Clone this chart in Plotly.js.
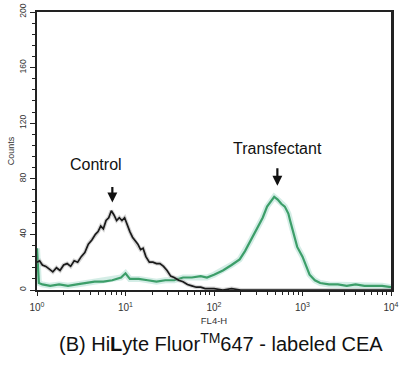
<!DOCTYPE html>
<html>
<head>
<meta charset="utf-8">
<script src="https://cdn.plot.ly/plotly-3.0.1.min.js"></script>
<style>html,body{margin:0;padding:0;background:#fff;}#chart{width:400px;height:370px;}</style>
</head>
<body>
<div id="chart"></div>
<script>
// FL4-H intensity (log axis) and event counts
var controlX = [1, 1.07, 1.15, 1.26, 1.38, 1.51, 1.66, 1.82, 2.0, 2.19, 2.4, 2.63, 2.88, 3.16, 3.47, 3.8, 4.17, 4.57, 4.9, 5.25, 5.62, 6.03, 6.46, 6.92, 7.41, 7.94, 8.51, 9.12, 9.77, 10.5, 11.2, 12.0, 12.9, 13.8, 14.8, 15.8, 17.0, 18.6, 20.4, 22.4, 24.5, 26.9, 29.5, 32.4, 35.5, 39.8, 44.7, 50.1, 56.2, 63.1, 70.8, 79.4, 100, 126, 158, 200, 316, 1000, 3162, 10000];
var controlY = [20, 21, 18, 17, 15, 13, 16, 14, 18, 19, 17, 21, 20, 24, 27, 33, 36, 40, 42, 46, 44, 50, 52, 57, 54, 50, 52, 50, 52, 46, 42, 38, 35, 33, 29, 30, 24, 20, 20, 19, 19, 17, 14, 10, 9, 7, 6, 4, 3, 2, 2, 1, 1, 0, 1, 0, 0, 0, 0, 0];

var transX = [1, 1.05, 1.15, 1.41, 1.78, 2.24, 2.82, 3.55, 4.47, 5.62, 7.08, 8.91, 10.0, 11.2, 14.1, 17.8, 22.4, 28.2, 35.5, 44.7, 56.2, 70.8, 83.2, 100, 126, 158, 195, 224, 257, 282, 316, 355, 398, 437, 479, 525, 575, 631, 692, 724, 794, 871, 1000, 1096, 1202, 1380, 1585, 1995, 2512, 3162, 3981, 5012, 6310, 7943, 10000];
var transY = [30, 5, 4, 3, 4, 3, 4, 5, 6, 6, 7, 9, 12, 8, 8, 7, 6, 7, 7, 9, 9, 10, 9, 11, 14, 18, 22, 28, 35, 40, 45, 52, 60, 64, 67, 65, 62, 60, 55, 50, 40, 31, 24, 17, 11, 7, 5, 4, 4, 3, 4, 3, 3, 3, 2];

var xTickVals = [1, 10, 100, 1000, 10000];
var xTickText = ['10<sup>0</sup>', '10<sup>1</sup>', '10<sup>2</sup>', '10<sup>3</sup>', '10<sup>4</sup>'];
var yTickVals = [0, 40, 80, 120, 160, 200];

var traces = [
  {x: transX, y: transY, type: 'scatter', mode: 'lines', line: {color: 'rgba(170,220,205,0.5)', width: 6}, hoverinfo: 'skip', showlegend: false},
  {x: transX, y: transY, type: 'scatter', mode: 'lines', line: {color: 'rgb(60,158,105)', width: 2.2}, showlegend: false},
  {x: controlX, y: controlY, type: 'scatter', mode: 'lines', line: {color: 'rgba(150,150,150,0.4)', width: 4}, hoverinfo: 'skip', showlegend: false},
  {x: controlX, y: controlY, type: 'scatter', mode: 'lines', line: {color: '#1a1a1a', width: 1.7}, showlegend: false}
];

var layout = {
  width: 400, height: 370,
  margin: {l: 37, r: 9, t: 12, b: 80},
  paper_bgcolor: '#fff', plot_bgcolor: '#fff',
  font: {family: 'Liberation Sans, Arial, sans-serif', color: '#222'},
  xaxis: {
    type: 'log', range: [0, 4],
    tickvals: xTickVals, ticktext: xTickText,
    tickfont: {size: 10, color: '#333'},
    ticks: 'outside', ticklen: 4, tickcolor: '#222',
    ticklabelstandoff: 3,
    minor: {ticks: 'outside', ticklen: 3, tickcolor: '#222', dtick: 'D1'},
    showline: true, linecolor: '#222', linewidth: 2, mirror: true,
    showgrid: false, zeroline: false,
    title: {text: 'FL4-H', font: {size: 9.5, color: '#333'}, standoff: 5}
  },
  yaxis: {
    range: [0, 200],
    tickvals: yTickVals,
    tickangle: -90,
    tickfont: {size: 8.5, color: '#333'},
    ticks: 'outside', ticklen: 5, tickcolor: '#222',
    minor: {ticks: 'outside', ticklen: 3, tickcolor: '#222', dtick: 8},
    showline: true, linecolor: '#222', linewidth: 2.5, mirror: true,
    showgrid: false, zeroline: false,
    title: {text: 'Counts', font: {size: 9, color: '#333'}, standoff: 2}
  },
  annotations: [
    {x: Math.log10(4.7), y: 90, xref: 'x', yref: 'y', text: 'Control', showarrow: false, font: {size: 16, color: '#111'}},
    {x: Math.log10(7.1), y: 63, xref: 'x', yref: 'y', text: '', showarrow: true, ax: 0, ay: -17, arrowhead: 2, arrowsize: 0.9, arrowwidth: 2.2, arrowcolor: '#111'},
    {x: Math.log10(520), y: 102, xref: 'x', yref: 'y', text: 'Transfectant', showarrow: false, font: {size: 16, color: '#111'}},
    {x: Math.log10(520), y: 75, xref: 'x', yref: 'y', text: '', showarrow: true, ax: 0, ay: -19, arrowhead: 2, arrowsize: 0.9, arrowwidth: 2.2, arrowcolor: '#111'},
    {x: 0, y: 0, xref: 'paper', yref: 'paper', text: '(B) Hi<b>L</b>yte Fluor<sup>TM</sup>647 - labeled CEA', showarrow: false, font: {size: 20, color: '#111'}}
  ]
};
// caption placed in pixel terms converted to paper coords
var cap = layout.annotations[4];
cap.x = (221 - 37) / (400 - 37 - 9);
cap.y = (370 - 80 - 357) / (370 - 12 - 80);
Plotly.newPlot('chart', traces, layout, {staticPlot: true});
</script>
</body>
</html>
